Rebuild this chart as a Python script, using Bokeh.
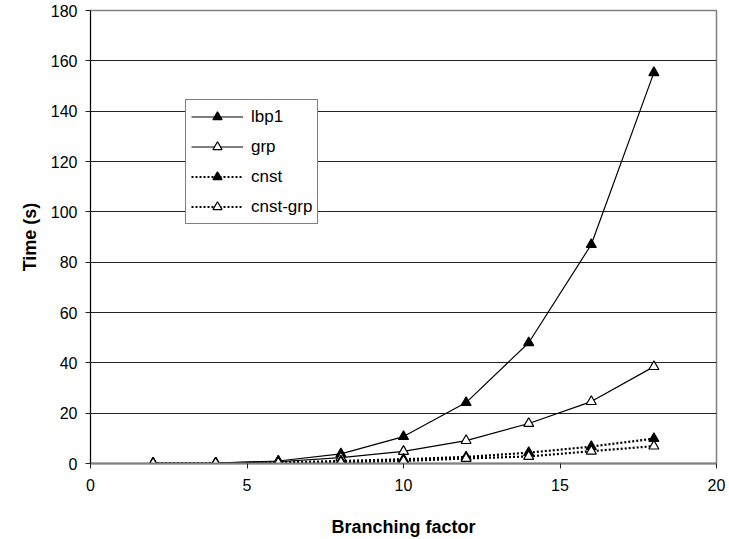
from bokeh.plotting import figure
from bokeh.models import Legend, LegendItem, ColumnDataSource, Range1d, FixedTicker
from bokeh.embed import file_html
from bokeh.resources import INLINE

branching = [2, 4, 6, 8, 10, 12, 14, 16, 18]
lbp1 = [0.05, 0.2, 1.0, 3.8, 10.7, 24.2, 48.0, 87.0, 155.3]
grp = [0.05, 0.15, 0.7, 2.3, 4.8, 9.1, 15.9, 24.6, 38.5]
cnst = [0.05, 0.1, 0.4, 1.0, 1.7, 2.6, 4.3, 6.7, 9.9]
cnst_grp = [0.03, 0.08, 0.3, 0.5, 1.0, 2.0, 2.8, 4.9, 6.9]
series_names = ["lbp1", "grp", "cnst", "cnst-grp"]
x_ticks = [0, 5, 10, 15, 20]
y_ticks = [0, 20, 40, 60, 80, 100, 120, 140, 160, 180]

FONT = "Liberation Sans"

p = figure(width=729, height=539, output_backend="svg", toolbar_location=None,
           x_range=Range1d(0, 20), y_range=Range1d(0, 180),
           min_border_left=90, min_border_right=13, min_border_top=10, min_border_bottom=75)
p.background_fill_color = "white"
p.border_fill_color = "white"
p.outline_line_color = "#808080"
p.outline_line_width = 1.5

p.xgrid.grid_line_color = None
p.ygrid.grid_line_color = "#222222"
p.ygrid.grid_line_width = 1
p.ygrid.ticker = FixedTicker(ticks=y_ticks)

p.xaxis.ticker = FixedTicker(ticks=x_ticks)
p.yaxis.ticker = FixedTicker(ticks=y_ticks)
for ax in (p.xaxis[0], p.yaxis[0]):
    ax.major_label_text_font = FONT
    ax.major_label_text_font_size = "16px"
    ax.major_label_text_color = "black"
    ax.axis_label_text_font = FONT
    ax.axis_label_text_font_size = "18px"
    ax.axis_label_text_font_style = "bold"
    ax.axis_label_text_color = "black"
    ax.minor_tick_line_color = None
    ax.major_tick_out = 5
    ax.major_tick_in = 0
p.xaxis.axis_label = "Branching factor"
p.yaxis.axis_label = "Time (s)"
p.xaxis.axis_line_color = "#808080"
p.xaxis.axis_line_width = 2
p.xaxis.major_tick_line_color = "#222222"
p.yaxis.axis_line_color = "black"
p.yaxis.major_tick_line_color = "#222222"
p.xaxis.axis_label_standoff = 23
p.yaxis.axis_label_standoff = 8
p.xaxis.major_label_standoff = 10
p.yaxis.major_label_standoff = 8

src = ColumnDataSource(dict(x=branching, lbp1=lbp1, grp=grp, cnst=cnst, cnst_grp=cnst_grp))

items = []
specs = [("lbp1", "solid", 1.2, "black"),
         ("grp", "solid", 1.2, "white"),
         ("cnst", "2 2", 2.2, "black"),
         ("cnst_grp", "2 2", 2.2, "white")]
for name, (col, dash, lw, fill) in zip(series_names, specs):
    r1 = p.line("x", col, source=src, line_color="black", line_width=lw, line_dash=dash)
    r2 = p.scatter("x", col, source=src, marker="triangle", size=10,
                   fill_color=fill, line_color="black", line_width=1.2)
    items.append(LegendItem(label=name, renderers=[r1, r2]))

legend = Legend(items=items, location=(95, 239))
legend.border_line_color = "black"
legend.border_line_width = 1
legend.background_fill_color = "white"
legend.background_fill_alpha = 1
legend.label_text_font = FONT
legend.label_text_font_size = "17px"
legend.label_text_color = "black"
legend.glyph_width = 52
legend.glyph_height = 23
legend.label_height = 23
legend.spacing = 7
legend.padding = 5
legend.margin = 0
legend.label_standoff = 8
p.add_layout(legend, "center")

open("out.html", "w").write(file_html(p, INLINE))
